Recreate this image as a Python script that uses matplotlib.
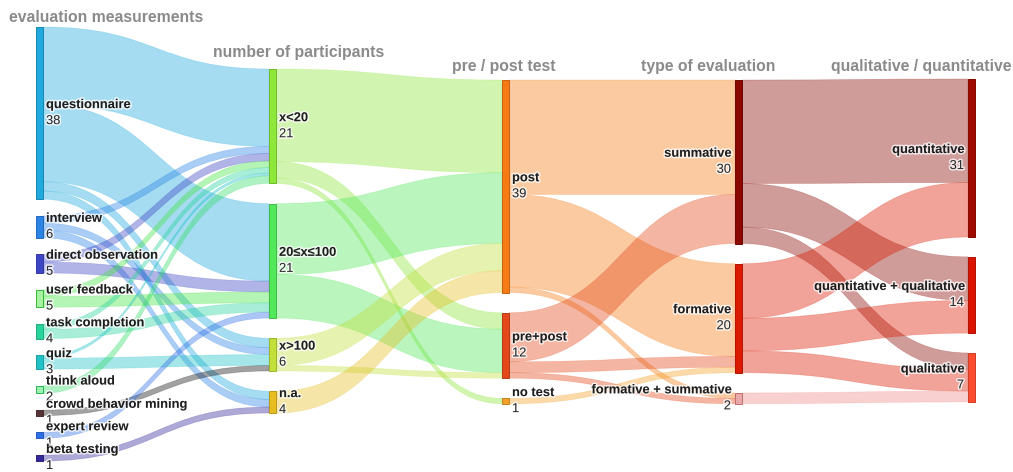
import matplotlib
matplotlib.use("Agg")
import matplotlib.pyplot as plt
from matplotlib.path import Path
from matplotlib.patches import PathPatch, Rectangle
import matplotlib.patheffects as pe
from matplotlib.colors import to_rgb

# ------------------------------------------------------------------ data
column_titles = ["evaluation measurements", "number of participants",
                 "pre / post test", "type of evaluation",
                 "qualitative / quantitative"]

measurements = ["questionnaire", "interview", "direct observation", "user feedback",
                "task completion", "quiz", "think aloud", "crowd behavior mining",
                "expert review", "beta testing"]
measurement_counts = [38, 6, 5, 5, 4, 3, 2, 1, 1, 1]

participants = ["x<20", "20≤x≤100", "x>100", "n.a."]
participant_counts = [21, 21, 6, 4]

prepost = ["post", "pre+post", "no test"]
prepost_counts = [39, 12, 1]

eval_types = ["summative", "formative", "formative + summative"]
eval_type_counts = [30, 20, 2]

qual_quant = ["quantitative", "quantitative + qualitative", "qualitative"]
qual_quant_counts = [31, 14, 7]

# link weights (papers split between the measurements they use)
links_measure_participants = [
    ("questionnaire", "x<20", 14.2), ("questionnaire", "20≤x≤100", 14.2),
    ("questionnaire", "x>100", 1.7), ("questionnaire", "n.a.", 1.5),
    ("interview", "x<20", 1.3), ("interview", "x>100", 1.3), ("interview", "n.a.", 1.4),
    ("direct observation", "x<20", 1.4), ("direct observation", "20≤x≤100", 2.0),
    ("user feedback", "x<20", 1.2), ("user feedback", "20≤x≤100", 2.0),
    ("task completion", "x<20", 1.0), ("task completion", "20≤x≤100", 1.7),
    ("quiz", "x<20", 0.5), ("quiz", "x>100", 2.0),
    ("think aloud", "x<20", 1.4),
    ("crowd behavior mining", "x>100", 1.0),
    ("expert review", "20≤x≤100", 1.1),
    ("beta testing", "n.a.", 1.1),
]
links_participants_prepost = [
    ("x<20", "post", 17), ("x<20", "pre+post", 3), ("x<20", "no test", 1),
    ("20≤x≤100", "post", 13), ("20≤x≤100", "pre+post", 8),
    ("x>100", "post", 5), ("x>100", "pre+post", 1),
    ("n.a.", "post", 4),
]
links_prepost_eval = [
    ("post", "summative", 21), ("post", "formative", 17), ("post", "formative + summative", 1),
    ("pre+post", "summative", 9), ("pre+post", "formative", 2), ("pre+post", "formative + summative", 1),
    ("no test", "formative", 1),
]
links_eval_qualquant = [
    ("summative", "quantitative", 19), ("summative", "quantitative + qualitative", 8),
    ("summative", "qualitative", 3),
    ("formative", "quantitative", 10), ("formative", "quantitative + qualitative", 6),
    ("formative", "qualitative", 4),
    ("formative + summative", "qualitative", 2),
]

# ------------------------------------------------------------------ style
node_color = {
    "questionnaire": "#1fa9de", "interview": "#2b83e6", "direct observation": "#3d45c4",
    "user feedback": "#44e444", "task completion": "#27d49c", "quiz": "#20c2c8",
    "think aloud": "#35dd6a", "crowd behavior mining": "#553535",
    "expert review": "#2d6ee6", "beta testing": "#33289a",
    "x<20": "#8ee83a", "20≤x≤100": "#52e85a", "x>100": "#c2e03a", "n.a.": "#e6be22",
    "post": "#f77b15", "pre+post": "#e4481a", "no test": "#f5a02a",
    "summative": "#8b0800", "formative": "#dc1a00", "formative + summative": "#f08a8a",
    "quantitative": "#a00a00", "quantitative + qualitative": "#d91500",
    "qualitative": "#ff4b30",
}
node_fill_override = {"user feedback": "#a6f2a0", "think aloud": "#9cf0b0",
                      "formative + summative": "#eaa8a8"}
link_base_override = {"crowd behavior mining": "#151515"}
LINK_ALPHA = 0.4

W, H = 1013, 472
K = 5.45                     # px per unit
NODE_W = 7
COL_X = [36 + 233 * i for i in range(5)]
COL_TOP = [27, 69, 80, 80, 79]
COL_GAP = [None, 20.2, 20.2, 20.2, 19.8]
COL1_BOTTOM = 461
TITLE_POS = [(106, 17), (299, 53), (504, 67), (708, 67), (921, 67)]
FONT = ["Liberation Sans", "DejaVu Sans"]

columns = [measurements, participants, prepost, eval_types, qual_quant]
counts = [measurement_counts, participant_counts, prepost_counts,
          eval_type_counts, qual_quant_counts]
links = (links_measure_participants + links_participants_prepost
         + links_prepost_eval + links_eval_qualquant)

# ------------------------------------------------------------------ layout
col_of = {}
for ci, col in enumerate(columns):
    for n in col:
        col_of[n] = ci
out_sum = {n: 0.0 for n in col_of}
in_sum = {n: 0.0 for n in col_of}
for s, t, v in links:
    out_sum[s] += v
    in_sum[t] += v
value = {n: max(out_sum[n], in_sum[n]) for n in col_of}

ypos = {}
for ci, col in enumerate(columns):
    total = sum(value[n] for n in col) * K
    gap = COL_GAP[ci]
    if gap is None:
        gap = (COL1_BOTTOM - COL_TOP[ci] - total) / (len(col) - 1)
    y = COL_TOP[ci]
    for n in col:
        h = value[n] * K
        ypos[n] = (y, y + h)
        y += h + gap

# link offsets
out_links = {n: [] for n in col_of}
in_links = {n: [] for n in col_of}
for i, (s, t, v) in enumerate(links):
    out_links[s].append(i)
    in_links[t].append(i)
src_y = {}
dst_y = {}
for n in col_of:
    y = ypos[n][0]
    for i in sorted(out_links[n], key=lambda i: ypos[links[i][1]][0]):
        h = links[i][2] * K
        src_y[i] = (y, y + h)
        y += h
    y = ypos[n][0]
    for i in sorted(in_links[n], key=lambda i: ypos[links[i][0]][0]):
        h = links[i][2] * K
        dst_y[i] = (y, y + h)
        y += h

# ------------------------------------------------------------------ draw
fig = plt.figure(figsize=(W / 100, H / 100), dpi=100)
ax = fig.add_axes([0, 0, 1, 1])
ax.set_xlim(0, W)
ax.set_ylim(H, 0)
ax.axis("off")

for i, (s, t, v) in enumerate(links):
    x0 = COL_X[col_of[s]] + NODE_W
    x1 = COL_X[col_of[t]]
    xm = (x0 + x1) / 2
    (a0, b0), (a1, b1) = src_y[i], dst_y[i]
    verts = [(x0, a0), (xm, a0), (xm, a1), (x1, a1), (x1, b1),
             (xm, b1), (xm, b0), (x0, b0), (x0, a0)]
    codes = [Path.MOVETO, Path.CURVE4, Path.CURVE4, Path.CURVE4, Path.LINETO,
             Path.CURVE4, Path.CURVE4, Path.CURVE4, Path.CLOSEPOLY]
    base = link_base_override.get(s, node_color[s])
    r, g, b = to_rgb(base)
    ax.add_patch(PathPatch(Path(verts, codes), facecolor=(r, g, b, LINK_ALPHA),
                           edgecolor=(r, g, b, 0.25), lw=0.5, zorder=1))

halo = [pe.withStroke(linewidth=2.2, foreground=(1, 1, 1, 0.75))]
for ci, col in enumerate(columns):
    for n, c in zip(col, counts[ci]):
        y0, y1 = ypos[n]
        fc = node_fill_override.get(n, node_color[n])
        ec = tuple(0.8 * x for x in to_rgb(node_color[n]))
        ax.add_patch(Rectangle((COL_X[ci], y0), NODE_W, max(y1 - y0, 1.0),
                               facecolor=fc, edgecolor=ec, lw=0.7, zorder=3))
        cy = (y0 + y1) / 2
        if ci < 3:
            tx, ha = COL_X[ci] + NODE_W + 3, "left"
        else:
            tx, ha = COL_X[ci] - 4, "right"
        ax.text(tx, cy - 8, n, ha=ha, va="center", fontsize=9.3, fontweight="bold",
                family=FONT, color="#1e1e1e", zorder=5, path_effects=halo)
        ax.text(tx, cy + 8, str(c), ha=ha, va="center", fontsize=9.3,
                family=FONT, color="#2a2a2a", zorder=5, path_effects=halo)

for title, (tx, ty) in zip(column_titles, TITLE_POS):
    ax.text(tx, ty, title, ha="center", va="center", fontsize=11.3,
            fontweight="bold", family=FONT, color="#8a8a8a")

fig.savefig("out.png", dpi=100)
